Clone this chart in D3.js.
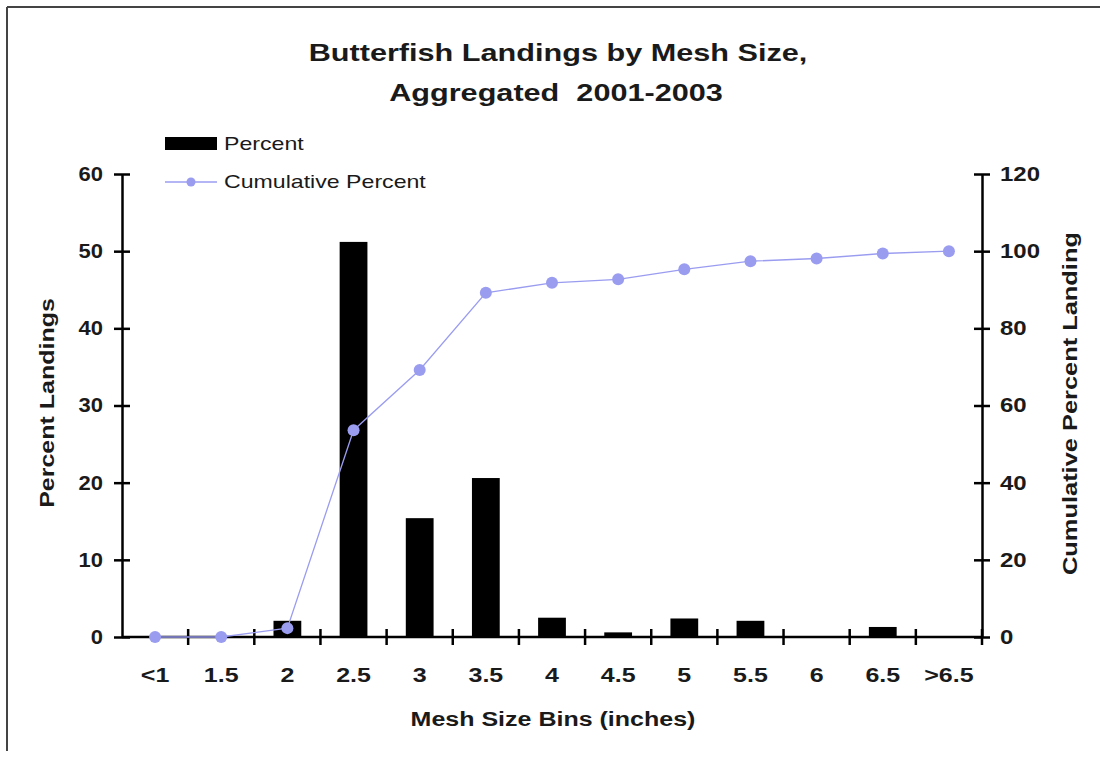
<!DOCTYPE html>
<html>
<head>
<meta charset="utf-8">
<script src="https://cdn.jsdelivr.net/npm/d3@7"></script>
<style>
  body { margin: 0; background: #fff; }
  svg { display: block; }
</style>
</head>
<body>
<div id="chart"></div>
<script>
// Data
var bins = ["<1", "1.5", "2", "2.5", "3", "3.5", "4", "4.5", "5", "5.5", "6", "6.5", ">6.5"];
var percent = [0, 0, 2.1, 51.2, 15.4, 20.6, 2.5, 0.6, 2.4, 2.1, 0, 1.3, 0];
var cumulative = [0, 0, 2.3, 53.6, 69.2, 89.2, 91.8, 92.7, 95.3, 97.4, 98.1, 99.4, 100];
var leftTicks = [0, 10, 20, 30, 40, 50, 60];
var rightTicks = [0, 20, 40, 60, 80, 100, 120];

// Colours
var barFill = "#000000";
var lineColor = "#9a9cf0";
var axisColor = "#000000";
var textColor = "#1a1a1a";
var font = "'Liberation Sans', Arial, sans-serif";

// Dimensions
const width = 1100;
const height = 757;
const plot = { left: 122, right: 982, top: 174, bottom: 637 };
const stretchX = 1.25; // the picture's text is wider than it is tall

let svg = d3.select("#chart").append("svg")
  .attr("width", width)
  .attr("height", height);

/*
Widen a text element horizontally like the source picture.
*/
function stretch(selection, factor) {
  selection.each(function() {
    let w = this.getComputedTextLength();
    d3.select(this)
      .attr("textLength", w * (factor || stretchX))
      .attr("lengthAdjust", "spacingAndGlyphs");
  });
}

// Outer frame (top and left edges only, as in the picture)
svg.append("line").attr("x1", 7).attr("y1", 7).attr("x2", width).attr("y2", 7)
  .attr("stroke", "#444").attr("stroke-width", 2);
svg.append("line").attr("x1", 7).attr("y1", 7).attr("x2", 7).attr("y2", 751)
  .attr("stroke", "#444").attr("stroke-width", 2);

let x = d3.scaleBand().domain(bins).range([plot.left, plot.right]);
let yLeft = d3.scaleLinear().domain([0, 60]).range([plot.bottom, plot.top]);
let yRight = d3.scaleLinear().domain([0, 120]).range([plot.bottom, plot.top]);

const barW = x.bandwidth() * 0.42;

// Bars
svg.append("g").selectAll("rect")
  .data(bins)
  .enter()
  .append("rect")
  .attr("x", d => x(d) + (x.bandwidth() - barW) / 2)
  .attr("y", (d, i) => yLeft(percent[i]))
  .attr("width", barW)
  .attr("height", (d, i) => plot.bottom - yLeft(percent[i]))
  .attr("fill", barFill);

// Axes
function styleAxis(g) {
  g.selectAll("path").attr("stroke", axisColor).attr("stroke-width", 2.5);
  g.selectAll("line").attr("stroke", axisColor).attr("stroke-width", 2.5);
  g.selectAll("text")
    .attr("fill", textColor)
    .attr("font-family", font)
    .attr("font-weight", "bold")
    .attr("font-size", "20px");
}

let leftAxis = svg.append("g")
  .attr("transform", `translate(${plot.left},0)`)
  .call(d3.axisLeft(yLeft).tickValues(leftTicks).tickSize(8).tickSizeOuter(0).tickPadding(11))
  .call(styleAxis);
leftAxis.selectAll(".tick line").attr("x2", 8).attr("x1", -8);
leftAxis.selectAll(".tick text").call(stretch, 1.1);

let rightAxis = svg.append("g")
  .attr("transform", `translate(${plot.right},0)`)
  .call(d3.axisRight(yRight).tickValues(rightTicks).tickSize(8).tickSizeOuter(0).tickPadding(10))
  .call(styleAxis);
rightAxis.selectAll(".tick line").attr("x1", -8).attr("x2", 8);
rightAxis.selectAll(".tick text").call(stretch, 1.2);

// Category axis: ticks sit on the band boundaries
let bottomAxis = svg.append("g")
  .attr("transform", `translate(0,${plot.bottom})`)
  .call(d3.axisBottom(x).tickSize(0))
  .call(styleAxis);
bottomAxis.select("path").attr("d", `M${plot.left},0H${plot.right}`);
bottomAxis.selectAll(".tick text").attr("dy", "0.35em").attr("y", 38).call(stretch);

let boundaries = bins.map(d => x(d)).concat([plot.right]);
svg.append("g").selectAll("line")
  .data(boundaries.slice(1))
  .enter()
  .append("line")
  .attr("x1", d => d).attr("x2", d => d)
  .attr("y1", plot.bottom - 8).attr("y2", plot.bottom + 8)
  .attr("stroke", axisColor).attr("stroke-width", 2.5);

// Cumulative line
let line = d3.line()
  .x((d, i) => x(bins[i]) + x.bandwidth() / 2)
  .y(d => yRight(d));

svg.append("path")
  .datum(cumulative)
  .attr("d", line)
  .attr("fill", "none")
  .attr("stroke", lineColor)
  .attr("stroke-width", 1.3);

svg.append("g").selectAll("circle")
  .data(cumulative)
  .enter()
  .append("circle")
  .attr("cx", (d, i) => x(bins[i]) + x.bandwidth() / 2)
  .attr("cy", d => yRight(d))
  .attr("r", 6)
  .attr("fill", lineColor);

// Title
svg.append("text")
  .attr("x", 558).attr("y", 61)
  .attr("text-anchor", "middle")
  .attr("font-family", font).attr("font-weight", "bold").attr("font-size", "24.5px")
  .attr("fill", textColor)
  .text("Butterfish Landings by Mesh Size,")
  .call(stretch);
svg.append("text")
  .attr("x", 556).attr("y", 101)
  .attr("text-anchor", "middle")
  .attr("font-family", font).attr("font-weight", "bold").attr("font-size", "24.5px")
  .attr("fill", textColor)
  .attr("xml:space", "preserve")
  .text("Aggregated  2001-2003")
  .call(stretch);

// Axis titles
svg.append("text")
  .attr("transform", "translate(54,403) rotate(-90)")
  .attr("text-anchor", "middle")
  .attr("font-family", font).attr("font-weight", "bold").attr("font-size", "20px")
  .attr("fill", textColor)
  .text("Percent Landings")
  .call(stretch);

// The right title runs off the top of its box in the picture
svg.append("defs").append("clipPath").attr("id", "rclip")
  .append("rect").attr("x", 1040).attr("y", 234).attr("width", 60).attr("height", 400);
svg.append("g")
  .attr("clip-path", "url(#rclip)")
  .append("text")
  .attr("transform", "translate(1077,575) rotate(-90)")
  .attr("text-anchor", "start")
  .attr("font-family", font).attr("font-weight", "bold").attr("font-size", "20px")
  .attr("fill", textColor)
  .text("Cumulative Percent Landings")
  .call(stretch, 1.27);

svg.append("text")
  .attr("x", 553).attr("y", 726)
  .attr("text-anchor", "middle")
  .attr("font-family", font).attr("font-weight", "bold").attr("font-size", "20px")
  .attr("fill", textColor)
  .text("Mesh Size Bins (inches)")
  .call(stretch);

// Legend
let legend = svg.append("g");
legend.append("rect")
  .attr("x", 165).attr("y", 137).attr("width", 52).attr("height", 13)
  .attr("fill", barFill);
legend.append("text")
  .attr("x", 224).attr("y", 150)
  .attr("font-family", font).attr("font-size", "18.5px")
  .attr("fill", textColor)
  .text("Percent")
  .call(stretch);
legend.append("line")
  .attr("x1", 165).attr("x2", 217).attr("y1", 182).attr("y2", 182)
  .attr("stroke", lineColor).attr("stroke-width", 1.3);
legend.append("circle")
  .attr("cx", 191).attr("cy", 182).attr("r", 4.5)
  .attr("fill", lineColor);
legend.append("text")
  .attr("x", 224).attr("y", 188)
  .attr("font-family", font).attr("font-size", "18.5px")
  .attr("fill", textColor)
  .text("Cumulative Percent")
  .call(stretch);
</script>
</body>
</html>
